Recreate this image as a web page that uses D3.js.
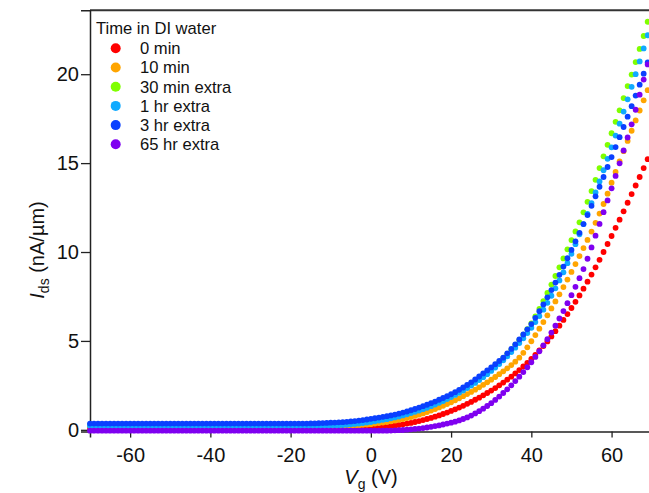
<!DOCTYPE html>
<html>
<head>
<meta charset="utf-8">
<script src="https://cdn.jsdelivr.net/npm/d3@7"></script>
<style>
  body { margin: 0; background: #fff; }
  text { font-family: "Liberation Sans", Arial, sans-serif; fill: #111; }
</style>
</head>
<body>
<div id="zone"></div>
<script>
// tension de grille (V) : balayage de -70 à 69 V
var vg = [
  -70,-69,-68,-67,-66,-65,-64,-63,-62,-61,-60,-59,-58,-57,-56,-55,-54,-53,-52,-51,
  -50,-49,-48,-47,-46,-45,-44,-43,-42,-41,-40,-39,-38,-37,-36,-35,-34,-33,-32,-31,
  -30,-29,-28,-27,-26,-25,-24,-23,-22,-21,-20,-19,-18,-17,-16,-15,-14,-13,-12,-11,
  -10,-9,-8,-7,-6,-5,-4,-3,-2,-1,0,1,2,3,4,5,6,7,8,9,
  10,11,12,13,14,15,16,17,18,19,20,21,22,23,24,25,26,27,28,29,
  30,31,32,33,34,35,36,37,38,39,40,41,42,43,44,45,46,47,48,49,
  50,51,52,53,54,55,56,57,58,59,60,61,62,63,64,65,66,67,68,69
];

// courant Ids (nA/µm) pour chaque durée dans l'eau DI
var ids0min = [
  0.10,0.10,0.10,0.10,0.10,0.10,0.10,0.10,0.10,0.10,
  0.10,0.10,0.10,0.10,0.10,0.10,0.10,0.10,0.10,0.10,
  0.10,0.10,0.10,0.10,0.10,0.10,0.10,0.10,0.10,0.10,
  0.10,0.10,0.10,0.10,0.10,0.10,0.10,0.10,0.10,0.10,
  0.10,0.10,0.10,0.10,0.10,0.10,0.10,0.10,0.10,0.10,
  0.10,0.10,0.10,0.10,0.10,0.10,0.10,0.10,0.10,0.10,
  0.10,0.10,0.10,0.10,0.10,0.10,0.10,0.11,0.11,0.11,
  0.12,0.13,0.15,0.17,0.19,0.21,0.24,0.27,0.31,0.35,
  0.39,0.44,0.49,0.55,0.61,0.67,0.74,0.81,0.89,0.97,
  1.06,1.15,1.25,1.35,1.46,1.57,1.69,1.81,1.94,2.07,
  2.21,2.35,2.50,2.66,2.82,2.99,3.17,3.36,3.56,3.77,
  3.99,4.22,4.46,4.71,4.97,5.25,5.55,5.86,6.18,6.51,
  6.85,7.20,7.56,7.94,8.33,8.73,9.14,9.56,10.00,10.45,
  10.90,11.36,11.82,12.29,12.77,13.26,13.74,14.22,14.72,15.22
];
var ids10min = [
  0.18,0.18,0.18,0.18,0.18,0.18,0.18,0.18,0.18,0.18,
  0.18,0.18,0.18,0.18,0.18,0.18,0.18,0.18,0.18,0.18,
  0.18,0.18,0.18,0.18,0.18,0.18,0.18,0.18,0.18,0.18,
  0.18,0.18,0.18,0.18,0.18,0.18,0.18,0.18,0.18,0.18,
  0.18,0.18,0.18,0.18,0.18,0.18,0.18,0.18,0.18,0.18,
  0.18,0.18,0.18,0.18,0.18,0.18,0.18,0.18,0.18,0.18,
  0.19,0.19,0.20,0.21,0.22,0.23,0.24,0.26,0.28,0.30,
  0.32,0.35,0.38,0.41,0.44,0.48,0.52,0.56,0.61,0.66,
  0.72,0.78,0.85,0.92,1.00,1.08,1.17,1.26,1.35,1.45,
  1.55,1.66,1.77,1.89,2.01,2.13,2.26,2.39,2.53,2.67,
  2.82,2.97,3.13,3.29,3.46,3.64,3.83,4.06,4.33,4.64,
  4.98,5.33,5.69,6.06,6.44,6.83,7.22,7.62,8.03,8.45,
  8.88,9.32,9.77,10.22,10.68,11.15,11.64,12.16,12.70,13.28,
  13.90,14.50,15.10,15.67,16.25,16.82,17.40,17.96,18.53,19.10
];
var ids30min = [
  0.28,0.28,0.28,0.28,0.28,0.28,0.28,0.28,0.28,0.28,
  0.28,0.28,0.28,0.28,0.28,0.28,0.28,0.28,0.28,0.28,
  0.28,0.28,0.28,0.28,0.28,0.28,0.28,0.28,0.28,0.28,
  0.28,0.28,0.28,0.28,0.28,0.28,0.28,0.28,0.28,0.28,
  0.28,0.28,0.28,0.28,0.28,0.28,0.28,0.28,0.28,0.28,
  0.28,0.28,0.28,0.28,0.28,0.28,0.28,0.28,0.28,0.29,
  0.30,0.31,0.32,0.33,0.35,0.37,0.39,0.41,0.44,0.47,
  0.50,0.54,0.58,0.62,0.66,0.71,0.76,0.81,0.87,0.93,
  1.00,1.07,1.14,1.22,1.30,1.39,1.48,1.58,1.68,1.79,
  1.90,2.02,2.14,2.27,2.41,2.55,2.70,2.86,3.03,3.21,
  3.40,3.60,3.81,4.03,4.26,4.51,4.77,5.05,5.35,5.66,
  5.98,6.38,6.80,7.24,7.70,8.17,8.65,9.14,9.64,10.15,
  10.67,11.16,11.67,12.23,12.82,13.43,14.06,14.72,15.38,16.03,
  16.68,17.32,17.97,18.66,19.33,19.98,20.68,21.42,22.15,22.95
];
var ids1hr = [
  0.22,0.22,0.22,0.22,0.22,0.22,0.22,0.22,0.22,0.22,
  0.22,0.22,0.22,0.22,0.22,0.22,0.22,0.22,0.22,0.22,
  0.22,0.22,0.22,0.22,0.22,0.22,0.22,0.22,0.22,0.22,
  0.22,0.22,0.22,0.22,0.22,0.22,0.22,0.22,0.22,0.22,
  0.22,0.22,0.22,0.22,0.22,0.22,0.22,0.22,0.22,0.22,
  0.22,0.22,0.22,0.22,0.22,0.22,0.22,0.22,0.22,0.23,
  0.24,0.25,0.26,0.27,0.29,0.31,0.33,0.35,0.38,0.41,
  0.44,0.48,0.52,0.56,0.60,0.65,0.70,0.75,0.81,0.87,
  0.94,1.01,1.08,1.16,1.24,1.33,1.42,1.52,1.62,1.73,
  1.84,1.96,2.08,2.21,2.35,2.49,2.64,2.80,2.96,3.13,
  3.31,3.50,3.70,3.91,4.13,4.37,4.62,4.88,5.15,5.44,
  5.74,6.06,6.40,6.76,7.14,7.54,7.96,8.40,8.86,9.37,
  9.90,10.44,11.00,11.57,12.15,12.75,13.35,13.97,14.60,15.24,
  15.89,16.55,17.22,17.90,18.59,19.29,20.00,20.72,21.45,22.19
];
var ids3hr = [
  0.35,0.35,0.35,0.35,0.35,0.35,0.35,0.35,0.35,0.35,
  0.35,0.35,0.35,0.35,0.35,0.35,0.35,0.35,0.35,0.35,
  0.35,0.35,0.35,0.35,0.35,0.35,0.35,0.35,0.35,0.35,
  0.35,0.35,0.35,0.35,0.35,0.35,0.35,0.35,0.35,0.35,
  0.35,0.35,0.35,0.35,0.35,0.35,0.35,0.35,0.35,0.35,
  0.35,0.35,0.35,0.35,0.35,0.36,0.36,0.37,0.38,0.39,
  0.40,0.41,0.42,0.43,0.45,0.47,0.49,0.52,0.55,0.58,
  0.62,0.65,0.69,0.73,0.77,0.81,0.86,0.91,0.97,1.03,
  1.10,1.17,1.25,1.33,1.41,1.50,1.59,1.69,1.79,1.89,
  2.00,2.12,2.25,2.38,2.52,2.67,2.83,3.00,3.17,3.34,
  3.51,3.69,3.87,4.06,4.30,4.55,4.81,5.08,5.36,5.65,
  5.95,6.30,6.67,7.05,7.45,7.86,8.28,8.72,9.18,9.65,
  10.12,10.60,11.08,11.57,12.08,12.60,13.13,13.67,14.22,14.78,
  15.34,15.90,16.46,17.03,17.61,18.20,18.80,19.41,20.03,20.66
];
var ids65hr = [
  -0.05,-0.05,-0.05,-0.05,-0.05,-0.05,-0.05,-0.05,-0.05,-0.05,
  -0.05,-0.05,-0.05,-0.05,-0.05,-0.05,-0.05,-0.05,-0.05,-0.05,
  -0.05,-0.05,-0.05,-0.05,-0.05,-0.05,-0.05,-0.05,-0.05,-0.05,
  -0.05,-0.05,-0.05,-0.05,-0.05,-0.05,-0.05,-0.05,-0.05,-0.05,
  -0.05,-0.05,-0.05,-0.05,-0.05,-0.05,-0.05,-0.05,-0.05,-0.05,
  -0.05,-0.05,-0.05,-0.05,-0.05,-0.05,-0.05,-0.05,-0.05,-0.05,
  -0.05,-0.05,-0.05,-0.05,-0.05,-0.05,-0.05,-0.05,-0.05,-0.05,
  -0.05,-0.05,-0.05,-0.05,-0.05,-0.04,-0.03,-0.02,-0.01,0.01,
  0.03,0.05,0.07,0.10,0.13,0.17,0.21,0.25,0.30,0.35,
  0.40,0.46,0.53,0.61,0.70,0.80,0.92,1.05,1.19,1.34,
  1.50,1.68,1.87,2.07,2.28,2.50,2.74,2.99,3.25,3.52,
  3.80,4.10,4.42,4.75,5.10,5.47,5.86,6.26,6.68,7.12,
  7.57,8.04,8.53,9.04,9.62,10.26,10.92,11.58,12.24,12.90,
  13.58,14.28,14.99,15.71,16.44,17.18,18.00,18.85,19.70,20.55
];

var seriesNames = ["0 min", "10 min", "30 min extra", "1 hr extra", "3 hr extra", "65 hr extra"];
var seriesValues = [ids0min, ids10min, ids30min, ids1hr, ids3hr, ids65hr];
var seriesColors = ["#ff0000", "#ffa500", "#80ff00", "#10aaff", "#0a40ff", "#7f00f0"];

var xTicks = [-60, -40, -20, 0, 20, 40, 60];
var yTicks = [0, 5, 10, 15, 20];

(function() {
  "use strict";

  var width = 649;
  var height = 493;

  var svg = d3.select("#zone")
    .append("svg")
    .attr("width", width)
    .attr("height", height)
    .style("display", "block");

  svg.append("rect").attr("width", width).attr("height", height).attr("fill", "#fff");

  // échelles : le cadre continue au-delà du bord droit de l'image
  var x = d3.scaleLinear().domain([-70, 70]).range([90, 651.7]);
  var y = d3.scaleLinear().domain([-0.1, 23.6]).range([431.6, 10.2]);

  // cadre du haut
  svg.append("line")
    .attr("x1", x(-70)).attr("x2", width)
    .attr("y1", y(23.6)).attr("y2", y(23.6))
    .attr("stroke", "#333").attr("stroke-width", 2);

  // axe x
  var xAxis = svg.append("g")
    .attr("transform", "translate(0," + y(-0.1) + ")")
    .call(d3.axisBottom(x).tickValues(xTicks).tickSizeOuter(0).tickSize(6).tickPadding(10));

  // axe y
  var yAxis = svg.append("g")
    .attr("transform", "translate(" + x(-70) + ",0)")
    .call(d3.axisLeft(y).tickValues(yTicks).tickSizeOuter(0).tickSize(9).tickPadding(2));

  [xAxis, yAxis].forEach(function(g) {
    g.select(".domain").attr("stroke", "#222").attr("stroke-width", 1.5);
    g.selectAll(".tick line").attr("stroke", "#222").attr("stroke-width", 1.3);
    g.selectAll(".tick text")
      .style("font-family", '"Liberation Sans", Arial, sans-serif')
      .style("font-size", "20px")
      .attr("fill", "#111");
  });
  xAxis.selectAll(".tick text").text(function(d) { return d; });

  // titres des axes
  var xLabel = svg.append("text")
    .attr("x", 371).attr("y", 484)
    .attr("text-anchor", "middle")
    .style("font-size", "20px");
  xLabel.append("tspan").style("font-style", "italic").text("V");
  xLabel.append("tspan").attr("dy", 5).style("font-size", "14px").text("g");
  xLabel.append("tspan").attr("dy", -5).text(" (V)");

  var yLabel = svg.append("text")
    .attr("transform", "translate(44,250) rotate(-90)")
    .attr("text-anchor", "middle")
    .style("font-size", "20px");
  yLabel.append("tspan").style("font-style", "italic").text("I");
  yLabel.append("tspan").attr("dy", 5).style("font-size", "14px").text("ds");
  yLabel.append("tspan").attr("dy", -5).text(" (nA/µm)");

  // points de mesure, dans l'ordre de la légende
  seriesValues.forEach(function(values, s) {
    svg.append("g")
      .selectAll("circle")
      .data(values)
      .join("circle")
      .attr("cx", function(d, i) { return x(vg[i]); })
      .attr("cy", function(d) { return y(d); })
      .attr("r", 2.9)
      .attr("fill", seriesColors[s]);
  });

  // légende
  var legend = svg.append("g");
  legend.append("text")
    .attr("x", 96).attr("y", 34)
    .style("font-size", "16.6px")
    .text("Time in DI water");

  seriesNames.forEach(function(name, s) {
    var cy = 48.3 + s * 19.2;
    legend.append("circle")
      .attr("cx", 115.7).attr("cy", cy).attr("r", 5)
      .attr("fill", seriesColors[s]);
    legend.append("text")
      .attr("x", 140).attr("y", cy + 5.8)
      .style("font-size", "16.6px")
      .text(name);
  });

})();
</script>
</body>
</html>
